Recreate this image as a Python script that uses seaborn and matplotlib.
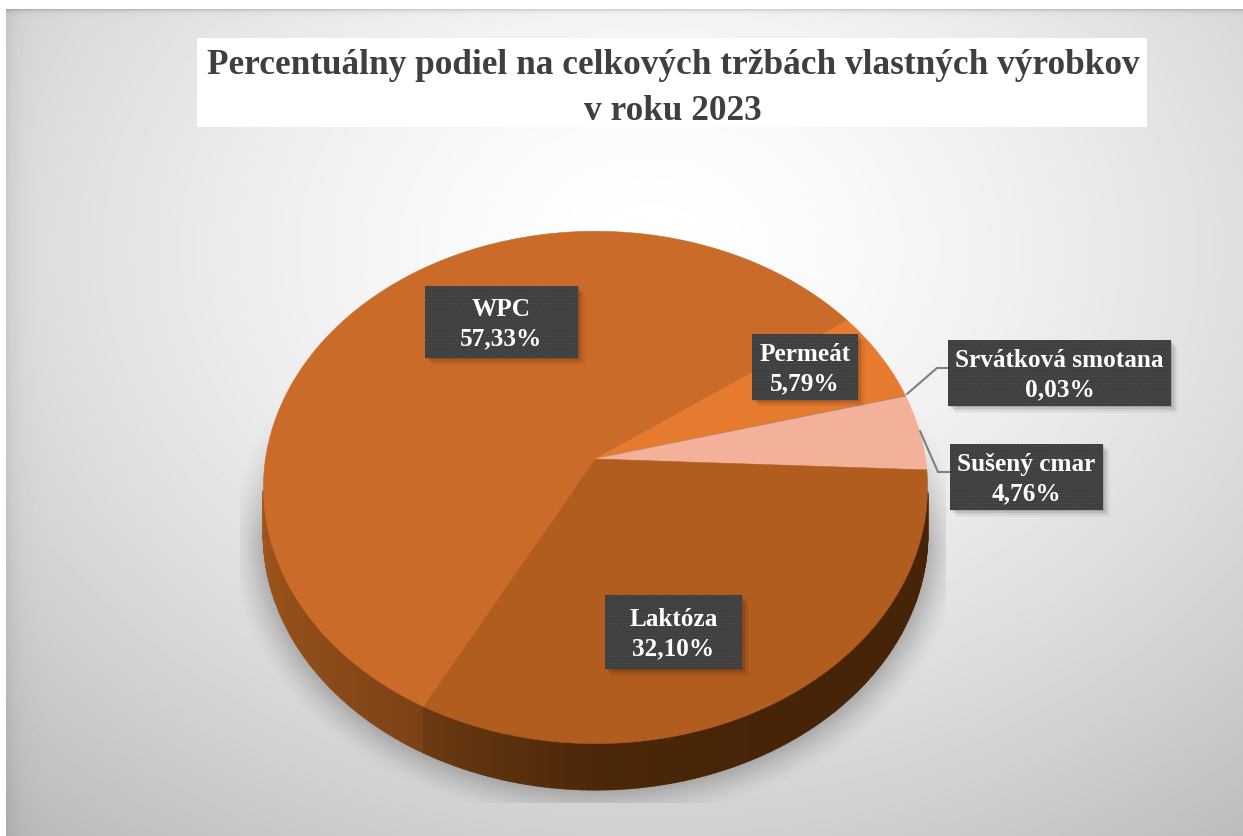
import numpy as np
import seaborn as sns
from matplotlib import pyplot as plt
from matplotlib.patches import Rectangle
from matplotlib.path import Path
from matplotlib.transforms import Affine2D, Transform

categories = ['WPC', 'Permeát', 'Srvátková smotana', 'Sušený cmar', 'Laktóza']
shares = [57.33, 5.79, 0.03, 4.76, 32.10]
title_lines = ['Percentuálny podiel na celkových tržbách vlastných výrobkov', 'v roku 2023']

colors = ['#cb6b2a', '#e67b30', '#8a8a8a', '#f4b19a', '#b05d1f']
# label boxes in pixels: left, top, right, bottom
boxes = [(425, 287, 578, 359), (752, 335, 858, 401), (948, 341, 1171, 407),
         (950, 445, 1103, 511), (605, 596, 742, 670)]

W, H = 1243, 837
CX, CY = 595.5, 460
RX, RY, TILT = 330, 253, 0.111
DEPTH = 46


class Tilt(Transform):
    # unit circle -> tilted disc in pixels, the far side is squeezed
    input_dims = output_dims = 2

    def transform_non_affine(self, values):
        values = np.asarray(values)
        w = 1 + TILT * values[:, 1]
        return np.column_stack([CX + RX * values[:, 0] / w, CY - RY * values[:, 1] / w])

    def transform_path_non_affine(self, path):
        # flatten the arcs first, bezier control points do not survive the tilt
        poly = path.transformed(Affine2D().scale(1000)).to_polygons(closed_only=False)[0] / 1000
        return Path(self.transform_non_affine(poly))


def rim(theta, shift=0):
    t = np.radians(theta)
    w = 1 + TILT * np.sin(t)
    return CX + RX * np.cos(t) / w, CY - RY * np.sin(t) / w + shift


def background(ax):
    yy, xx = np.mgrid[10:H, 6:W]
    r = np.hypot((xx - 650) / 800, (yy - 250) / 620)
    grey = 1 - 0.2 * r ** 1.5
    # darker band on the top and left edge
    grey -= 0.14 * np.exp(-(yy - 10) / 2) + 0.06 * np.exp(-(xx - 6) / 10)
    ax.imshow(grey, cmap='gray', vmin=0, vmax=1, extent=(6, W, H, 10), zorder=0, aspect='auto')


def shadow(ax):
    yy, xx = np.mgrid[380:804, 240:946]
    s = (yy - DEPTH - CY) / RY
    w = 1 / (1 + TILT * s)
    v = -s * w
    u = (xx - CX) / RX * w
    r = np.hypot(u, v)
    alpha = 0.42 * np.clip((1.1 - r) / 0.1, 0, 1) ** 1.4 * np.clip((yy - 380) / 170, 0, 1)
    img = np.zeros(alpha.shape + (4,))
    img[..., :3] = 0.4
    img[..., 3] = alpha
    ax.imshow(img, extent=(240, 946, 804, 380), zorder=1, aspect='auto')


def wall(ax, theta1, theta2, stops):
    n = max(int(theta2 - theta1), 1) * 2
    pal = sns.blend_palette(stops, n)
    edges = np.linspace(theta1, theta2, n + 1)
    for i in range(n):
        t = np.linspace(edges[i], edges[i + 1], 4)
        x0, y0 = rim(t)
        x1, y1 = rim(t[::-1], DEPTH)
        ax.fill(np.r_[x0, x1], np.r_[y0, y1], color=pal[i], lw=1.2, zorder=2)


def label(ax, box, text):
    x0, y0, x1, y1 = box
    for off, a in [(9, 0.04), (7, 0.06), (5, 0.09), (3, 0.12)]:
        ax.add_patch(Rectangle((x0 + off - 2, y0 + off - 2), x1 - x0, y1 - y0, fc='black', alpha=a, lw=0, zorder=5))
    ax.add_patch(Rectangle((x0, y0), x1 - x0, y1 - y0, fc='#404040', ec='#505050', lw=0, hatch='.....', zorder=6))
    ax.text((x0 + x1) / 2, (y0 + y1) / 2 + 1, text, color='white', fontsize=18.2, fontweight='bold',
            ha='center', va='center', linespacing=1.32, zorder=7)


if __name__ == '__main__':
    sns.set_theme(style='white')
    plt.rcParams['font.family'] = ['Liberation Serif', 'DejaVu Serif']
    plt.rcParams['hatch.linewidth'] = 0.4
    plt.rcParams['hatch.color'] = '#5a5a5a'

    fig = plt.figure(figsize=(W / 100, H / 100), dpi=100, facecolor='white')
    ax = fig.add_axes([0, 0, 1, 1])

    wedges, _ = ax.pie(shares, colors=colors, startangle=242, counterclock=False)
    tilt = Tilt() + ax.transData
    for w, c in zip(wedges, colors):
        w.set_transform(tilt)
        w.set_edgecolor(c)
        w.set_linewidth(0.4)
        w.set_zorder(3)

    background(ax)
    shadow(ax)
    wpc, lak = wedges[0], wedges[4]
    # wall starts at the widest point of the disc
    wall(ax, 187, wpc.theta2, ['#a3561c', '#96501a', '#8a4a18', '#7c4216'])
    wall(ax, lak.theta1, lak.theta2 - 5, ['#6b3a12', '#4c2709', '#472408', '#472408', '#472408'])

    ax.plot([907, 937, 948], [395, 369, 369], color='#7f7f7f', lw=1.5, zorder=4)
    ax.plot([920, 938, 950], [432, 473, 473], color='#7f7f7f', lw=1.5, zorder=4)

    for box, cat, val in zip(boxes, categories, shares):
        label(ax, box, cat + '\n' + f'{val:.2f}%'.replace('.', ','))

    ax.add_patch(Rectangle((197, 39), 950, 89, fc='white', lw=0, zorder=5))
    ax.text(673, 65, title_lines[0], color='#3f3f3f', fontsize=25.4, fontweight='bold', ha='center', va='center', zorder=6)
    ax.text(673, 111, title_lines[1], color='#3f3f3f', fontsize=25.4, fontweight='bold', ha='center', va='center', zorder=6)

    ax.set_aspect('auto')
    ax.set_xlim(0, W)
    ax.set_ylim(H, 0)
    ax.axis('off')
    fig.savefig('out.png', dpi=100)
